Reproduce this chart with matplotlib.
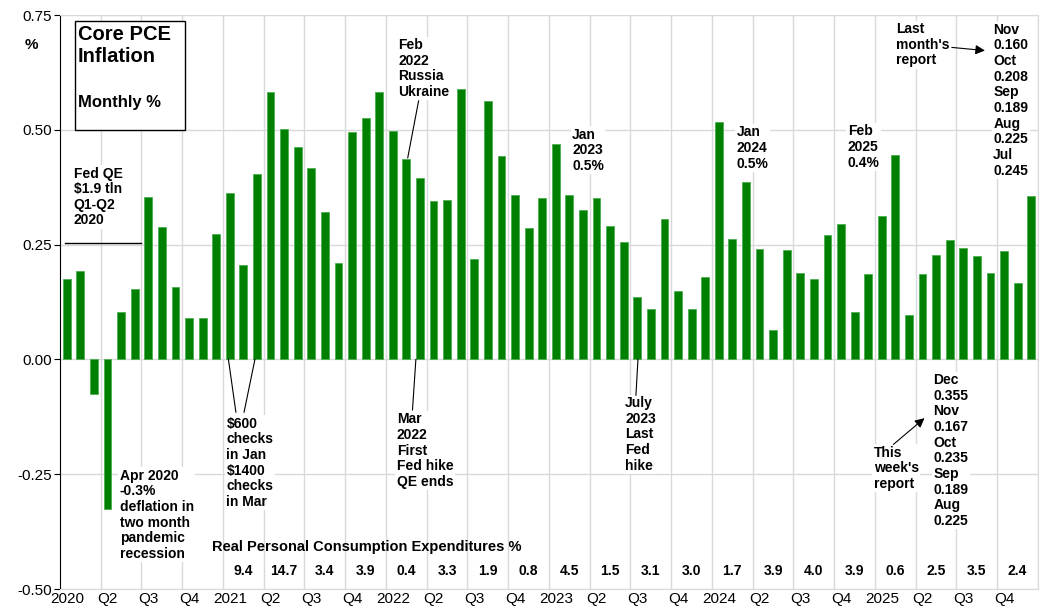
import numpy as np
import matplotlib
matplotlib.use("Agg")
import matplotlib.pyplot as plt
from matplotlib.patches import Rectangle

plt.rcParams['font.family'] = ['Liberation Sans', 'DejaVu Sans']

# monthly core PCE, Jan 2020 .. Dec 2025
core_pce = [0.175, 0.193, -0.075, -0.325, 0.103, 0.154, 0.353, 0.289, 0.157, 0.090, 0.091, 0.273,
            0.362, 0.205, 0.404, 0.583, 0.501, 0.463, 0.416, 0.320, 0.209, 0.496, 0.525, 0.583,
            0.498, 0.436, 0.394, 0.345, 0.347, 0.589, 0.218, 0.562, 0.442, 0.357, 0.286, 0.352,
            0.470, 0.359, 0.325, 0.352, 0.291, 0.256, 0.137, 0.109, 0.306, 0.150, 0.109, 0.179,
            0.516, 0.262, 0.386, 0.240, 0.063, 0.238, 0.188, 0.175, 0.272, 0.295, 0.103, 0.187,
            0.312, 0.446, 0.096, 0.185, 0.228, 0.261, 0.243, 0.225, 0.189, 0.235, 0.167, 0.355]
quarter_labels = []
for yr in range(2020, 2026):
    quarter_labels += [str(yr), "Q2", "Q3", "Q4"]
# real PCE growth by quarter, Q1 2021 .. Q4 2025
rpce = ["9.4", "14.7", "3.4", "3.9", "0.4", "3.3", "1.9", "0.8", "4.5", "1.5",
        "3.1", "3.0", "1.7", "3.9", "4.0", "3.9", "0.6", "2.5", "3.5", "2.4"]

n = len(core_pce)
x = np.arange(n)

fig = plt.figure(figsize=(10.47, 6.10), dpi=100)
ax = fig.add_axes([0.0573, 0.0344, 0.9341, 0.941])

ax.bar(x, core_pce, width=0.58, color="#008000", edgecolor="#4caf50", linewidth=0.6, zorder=3)

ax.set_xlim(-0.5, n - 0.5)
ax.set_ylim(-0.5, 0.75)
ax.set_yticks([-0.5, -0.25, 0, 0.25, 0.5, 0.75])
ax.set_yticklabels([f"{v:.2f}" for v in [-0.5, -0.25, 0, 0.25, 0.5, 0.75]], fontsize=11)
ax.set_xticks(np.arange(0, n, 3))
ax.set_xticklabels(quarter_labels, fontsize=11)
ax.set_xticks(np.arange(2.5, n, 3), minor=True)
ax.tick_params(axis="x", which="both", length=0, pad=2)
ax.tick_params(axis="y", length=4, pad=2)
ax.grid(axis="y", color="#d9d9d9", lw=1, zorder=0)
ax.grid(axis="x", which="minor", color="#d9d9d9", lw=1, zorder=0)
for s in ["top", "right", "bottom"]:
    ax.spines[s].set_color("#d9d9d9")
ax.spines["left"].set_color("black")

bold = dict(fontsize=10, fontweight="bold", va="top", ha="left", linespacing=1.15,
            bbox=dict(facecolor="white", edgecolor="none", pad=1), zorder=4)

# title box
ax.add_patch(Rectangle((0.0153, 0.80), 0.113, 0.1895, transform=ax.transAxes,
                       facecolor="white", edgecolor="black", lw=1, zorder=5))
ax.text(0.018, 0.982, "Core PCE\nInflation", transform=ax.transAxes, fontsize=14.5,
        fontweight="bold", va="top", ha="left", linespacing=1.2, zorder=6)
ax.text(0.018, 0.86, "Monthly %", transform=ax.transAxes, fontsize=12,
        fontweight="bold", va="top", ha="left", zorder=6)
fig.text(31 / 1047, 1 - 45 / 610, "%", fontsize=11, fontweight="bold", ha="center", va="center")

# annotations
ax.plot([-0.1, 5.5], [0.254, 0.254], color="black", lw=1, zorder=4)
ax.text(0.5, 0.42, "Fed QE\n$1.9 tln\nQ1-Q2\n2020", **bold)
ax.text(3.9, -0.238, "Apr 2020\n-0.3%\ndeflation in\ntwo month\npandemic\nrecession", **bold)
ax.text(11.75, -0.125, "\\$600\nchecks\nin Jan\n\\$1400\nchecks\nin Mar", **bold)
ax.plot([11.9, 12.45], [0, -0.115], color="black", lw=0.8, zorder=4)
ax.plot([13.85, 13.05], [0, -0.115], color="black", lw=0.8, zorder=4)
ax.text(24.4, 0.70, "Feb\n2022\nRussia\nUkraine", **bold)
ax.plot([25.9, 25.1], [0.563, 0.439], color="black", lw=0.8, zorder=4)
ax.text(24.3, -0.115, "Mar\n2022\nFirst\nFed hike\nQE ends", **bold)
ax.plot([25.7, 25.45], [0, -0.11], color="black", lw=0.8, zorder=4)
ax.text(37.2, 0.505, "Jan\n2023\n0.5%", **bold)
ax.text(41.1, -0.08, "July\n2023\nLast\nFed\nhike", **bold)
ax.plot([42.05, 41.9], [0, -0.078], color="black", lw=0.8, zorder=4)
ax.text(49.3, 0.51, "Jan\n2024\n0.5%", **bold)
ax.text(57.5, 0.512, "Feb\n2025\n0.4%", **bold)
ax.text(61.05, 0.735, "Last\nmonth's\nreport", **bold)
ax.annotate("", xy=(67.8, 0.672), xytext=(64.95, 0.68), zorder=4,
            arrowprops=dict(arrowstyle="-|>", color="black", lw=0.8, mutation_scale=14))
ax.text(68.2, 0.733, "Nov\n0.160\nOct\n0.208\nSep\n0.189\nAug\n0.225\nJul\n0.245", **bold)
ax.text(59.4, -0.188, "This\nweek's\nreport", **bold)
ax.annotate("", xy=(63.3, -0.124), xytext=(60.7, -0.189), zorder=4,
            arrowprops=dict(arrowstyle="-|>", color="black", lw=0.8, mutation_scale=14))
ax.text(63.8, -0.03, "Dec\n0.355\nNov\n0.167\nOct\n0.235\nSep\n0.189\nAug\n0.225", **bold)

# real PCE row
ax.text(22.1, -0.409, "Real Personal Consumption Expenditures %", fontsize=10.5,
        fontweight="bold", ha="center", va="center", zorder=4)
for k, v in enumerate(rpce):
    ax.text(13 + 3 * k, -0.461, v, fontsize=10, fontweight="bold", ha="center", va="center",
            bbox=dict(facecolor="white", edgecolor="none", pad=1), zorder=4)

fig.savefig("out.png", dpi=100)
